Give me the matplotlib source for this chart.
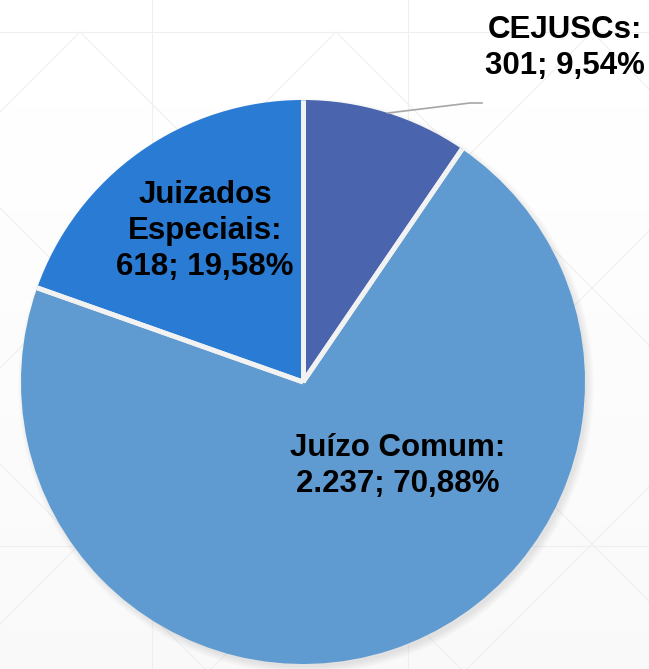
import numpy as np
import matplotlib
matplotlib.use("Agg")
import matplotlib.pyplot as plt
from matplotlib.patches import Circle

# data
categories = ["CEJUSCs", "Juízo Comum", "Juizados\nEspeciais"]
values = [301, 2237, 618]
pct_labels = ["9,54%", "70,88%", "19,58%"]
count_labels = ["301", "2.237", "618"]
colors = ["#4A65AE", "#5F9BD0", "#2A7BD4"]

plt.rcParams['font.family'] = ['Liberation Sans', 'DejaVu Sans']

W, H = 649, 669
fig = plt.figure(figsize=(W / 100, H / 100), dpi=100)
ax = fig.add_axes([0, 0, 1, 1])

# faint background gradient + lattice
grad = np.linspace(1.0, 0.975, 200).reshape(-1, 1)
ax.imshow(grad, extent=[0, W, 0, H], cmap="gray", vmin=0, vmax=1, aspect="auto", zorder=0)
lc = "#efefef"
for y in [H - 32, H - 546]:
    ax.plot([0, W], [y, y], color=lc, lw=0.8, zorder=1)
for x in [152, 408]:
    ax.plot([x, x], [0, H], color=lc, lw=0.8, zorder=1)
for x0 in range(-1200, 1400, 256):
    ax.plot([x0, x0 + 900], [H - 32, H - 32 - 900], color=lc, lw=0.8, zorder=1)
    ax.plot([x0, x0 - 900], [H - 32, H - 32 - 900], color=lc, lw=0.8, zorder=1)

cx, cy, r = 303, H - 382, 282

# soft shadow
for i in range(8):
    ax.add_patch(Circle((cx + 3, cy - 4), r + 6 - i, color="black", alpha=0.012, lw=0, zorder=2))

wedges, _ = ax.pie(values, colors=colors, startangle=90, counterclock=False,
                   center=(cx, cy), radius=r, frame=True,
                   wedgeprops=dict(edgecolor="none", linewidth=0))
for w in wedges:
    w.set_zorder(3)
    # white separators along the slice borders only
    for ang in (w.theta1, w.theta2):
        a = np.deg2rad(ang)
        ax.plot([cx, cx + r * np.cos(a)], [cy, cy + r * np.sin(a)],
                color="#f2f2f2", lw=3.5, solid_capstyle="butt", zorder=4)
ax.set_xlim(0, W)
ax.set_ylim(0, H)
ax.set_aspect("equal")
ax.axis("off")

fs = 22.5
lbl = [f"{c}:\n{n}; {p}" for c, n, p in zip(categories, count_labels, pct_labels)]
ax.text(565, H - 48, lbl[0], ha="center", va="center", fontsize=fs,
        fontweight="bold", linespacing=1.25, zorder=5)
ax.text(398, H - 466, lbl[1], ha="center", va="center", fontsize=fs,
        fontweight="bold", linespacing=1.25, zorder=5)
ax.text(205, H - 231, lbl[2], ha="center", va="center", fontsize=fs,
        fontweight="bold", linespacing=1.25, zorder=5)

# leader line for CEJUSCs
ax.plot([388, 470, 482], [H - 113, H - 103, H - 103], color="#a6a6a6", lw=1.2, zorder=4)

fig.savefig("out.png", dpi=100)
